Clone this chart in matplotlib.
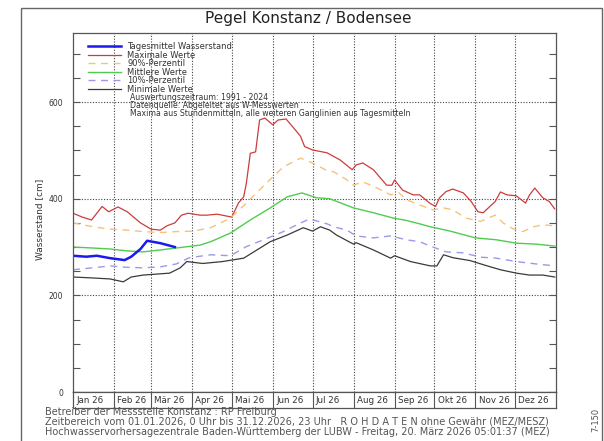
import matplotlib
matplotlib.use("Agg")
import matplotlib.pyplot as plt
from matplotlib.patches import Rectangle

W, H = 604, 441

# day of year (0 = 1. Jan) and water level in cm
month_starts = [0, 31, 59, 90, 120, 151, 181, 212, 243, 273, 304, 334, 365]
month_labels = ["Jan 26", "Feb 26", "Mär 26", "Apr 26", "Mai 26", "Jun 26",
                "Jul 26", "Aug 26", "Sep 26", "Okt 26", "Nov 26", "Dez 26"]

cur_days = [0, 10, 18, 28, 39, 44, 51, 56, 60, 66, 77]
cur_vals = [282, 280, 282, 277, 273, 280, 296, 313, 311, 308, 300]

max_days = [0, 7, 14, 22, 27, 34, 41, 51, 59, 66, 71, 77, 82, 87, 96, 101, 109,
            120, 125, 129, 131, 134, 138, 141, 145, 151, 155, 161, 166, 172, 175,
            181, 192, 202, 211, 214, 219, 227, 237, 241, 243, 249, 257, 262, 270,
            274, 277, 282, 287, 295, 301, 306, 310, 315, 319, 323, 328, 335, 342,
            345, 349, 355, 360, 364]
max_vals = [370, 362, 356, 384, 373, 383, 373, 350, 337, 335, 344, 350, 366, 370,
            366, 366, 368, 362, 391, 404, 432, 494, 497, 563, 567, 553, 563, 565,
            549, 529, 508, 501, 495, 480, 460, 470, 474, 460, 428, 428, 439, 418,
            408, 408, 390, 384, 402, 415, 420, 412, 394, 373, 371, 384, 394, 414,
            408, 406, 391, 408, 422, 402, 394, 379]

p90_days = [0, 15, 28, 41, 53, 66, 78, 91, 104, 119, 131, 146, 159, 172, 181,
            192, 197, 207, 212, 219, 230, 240, 246, 252, 262, 272, 280, 287, 297,
            308, 319, 325, 333, 340, 348, 355, 364]
p90_vals = [350, 342, 337, 335, 332, 330, 332, 333, 340, 360, 391, 432, 466, 484,
            474, 458, 456, 439, 428, 435, 422, 408, 413, 398, 387, 377, 381, 377,
            360, 353, 366, 350, 337, 332, 342, 346, 344]

mean_days = [0, 15, 28, 41, 53, 66, 78, 96, 104, 119, 134, 149, 162, 173, 184,
             194, 212, 227, 242, 252, 262, 270, 285, 304, 320, 335, 350, 364]
mean_vals = [300, 298, 296, 292, 290, 294, 298, 304, 311, 329, 356, 381, 404, 412,
             402, 400, 381, 371, 360, 355, 348, 342, 333, 319, 315, 308, 306, 302]

p10_days = [0, 15, 28, 41, 53, 66, 78, 88, 104, 119, 131, 144, 159, 172, 179,
            192, 197, 207, 214, 227, 240, 252, 262, 270, 282, 295, 308, 320, 335,
            350, 364]
p10_vals = [253, 257, 261, 258, 257, 259, 265, 278, 284, 282, 301, 315, 332, 350,
            358, 348, 342, 335, 323, 319, 323, 315, 311, 302, 290, 288, 279, 277,
            270, 265, 261]

min_days = [0, 15, 28, 38, 44, 53, 63, 73, 81, 86, 98, 113, 129, 139, 149, 162,
            174, 181, 187, 194, 199, 212, 214, 227, 240, 243, 255, 270, 275, 280,
            287, 300, 313, 323, 335, 345, 355, 364]
min_vals = [238, 236, 234, 228, 238, 242, 244, 246, 257, 270, 266, 270, 277, 294,
            311, 325, 340, 333, 342, 335, 325, 306, 309, 294, 277, 282, 270, 261,
            261, 284, 278, 272, 261, 253, 246, 242, 242, 238]

info_lines = ["Auswertungszeitraum: 1991 - 2024",
              "Datenquelle: Abgeleitet aus W-Messwerten",
              "Maxima aus Stundenmitteln, alle weiteren Ganglinien aus Tagesmitteln"]
footer_lines = ["Betreiber der Messstelle Konstanz : RP Freiburg",
                "Zeitbereich vom 01.01.2026, 0 Uhr bis 31.12.2026, 23 Uhr   "
                "R O H D A T E N ohne Gewähr (MEZ/MESZ)",
                "Hochwasservorhersagezentrale Baden-Württemberg der LUBW - "
                "Freitag, 20. März 2026 05:01:37 (MEZ)"]

plt.rcParams["font.family"] = ["DejaVu Sans"]
txt = "#333333"


def fx(px):
    return px / W


def fy(py):
    return 1 - py / H


fig = plt.figure(figsize=(W / 100, H / 100), dpi=100)

# outer frame
fig.patches.append(Rectangle((fx(21), -0.05), fx(602) - fx(21), fy(8) + 0.05,
                             transform=fig.transFigure, fill=False,
                             edgecolor="#666666", lw=1.0))

ax = fig.add_axes([fx(73), fy(392), fx(556) - fx(73), fy(33) - fy(392)])

ax.plot(max_days, max_vals, color="#cc3c3c", lw=0.9, label="Maximale Werte")
ax.plot(p90_days, p90_vals, color="#f5c27a", lw=1.0, ls=(0, (5, 4)),
        label="90%-Perzentil")
ax.plot(mean_days, mean_vals, color="#4fcc4f", lw=1.0, label="Mittlere Werte")
ax.plot(p10_days, p10_vals, color="#9a9ae8", lw=1.0, ls=(0, (5, 4)),
        label="10%-Perzentil")
ax.plot(min_days, min_vals, color="#3a3a3a", lw=0.9, label="Minimale Werte")
ax.plot(cur_days, cur_vals, color="#1a1aee", lw=1.8,
        label="Tagesmittel Wasserstand")

ax.set_xlim(0, 365)
ax.set_ylim(0, 743)

ax.set_yticks([0, 200, 400, 600])
ax.set_yticks(range(0, 743, 50), minor=True)
ax.tick_params(axis="y", which="both", direction="in", length=5, width=0.8,
               left=True, right=True, color="#555555", labelsize=5.5,
               labelcolor=txt, pad=7)
ax.set_xticks(month_starts[1:-1])
ax.tick_params(axis="x", length=0, labelbottom=False)
ax.grid(True, which="major", color="#444444", lw=0.8, ls=(0, (1, 1.5)))
for s in ax.spines.values():
    s.set_color("#555555")
    s.set_linewidth(0.9)

ax.set_ylabel("Wasserstand [cm]", fontsize=6.5, color=txt)
ax.yaxis.set_label_coords(-28.5 / 483, 0.48)

handles, labels = ax.get_legend_handles_labels()
order = [5, 0, 1, 2, 3, 4]
leg = ax.legend([handles[i] for i in order], [labels[i] for i in order],
                loc="upper left", bbox_to_anchor=(15 / 483, 1 - 9 / 359),
                frameon=False, fontsize=6, handlelength=3.9, handletextpad=0.8,
                labelspacing=-0.05, borderpad=0, borderaxespad=0)
for t in leg.get_texts():
    t.set_color(txt)

for i, line in enumerate(info_lines):
    fig.text(fx(130), fy(98 + 7.6 * i), line, fontsize=5.6, color=txt,
             va="center", ha="left")

fig.text(fx(308), fy(18), "Pegel Konstanz / Bodensee", fontsize=11,
         color="#222222", ha="center", va="center")

# month strip below the plot
axm = fig.add_axes([fx(73), fy(408), fx(556) - fx(73), fy(392) - fy(408)])
axm.set_xlim(0, 365)
axm.set_ylim(0, 1)
axm.set_xticks([])
axm.set_yticks([])
for s in axm.spines.values():
    s.set_color("#555555")
    s.set_linewidth(0.9)
for d in month_starts[1:-1]:
    axm.axvline(d, color="#555555", lw=0.8)
for d, lab in zip(month_starts[:-1], month_labels):
    axm.text(d + 2.5, 0.45, lab, fontsize=6.3, color=txt, ha="left", va="center")

for i, line in enumerate(footer_lines):
    fig.text(fx(45), fy(412 + 10 * i), line, fontsize=7, color="#555555",
             ha="left", va="center")

fig.text(fx(596), fy(420), "7-150", fontsize=6, color="#555555",
         rotation=90, ha="center", va="center")

fig.savefig("out.png", dpi=100)
